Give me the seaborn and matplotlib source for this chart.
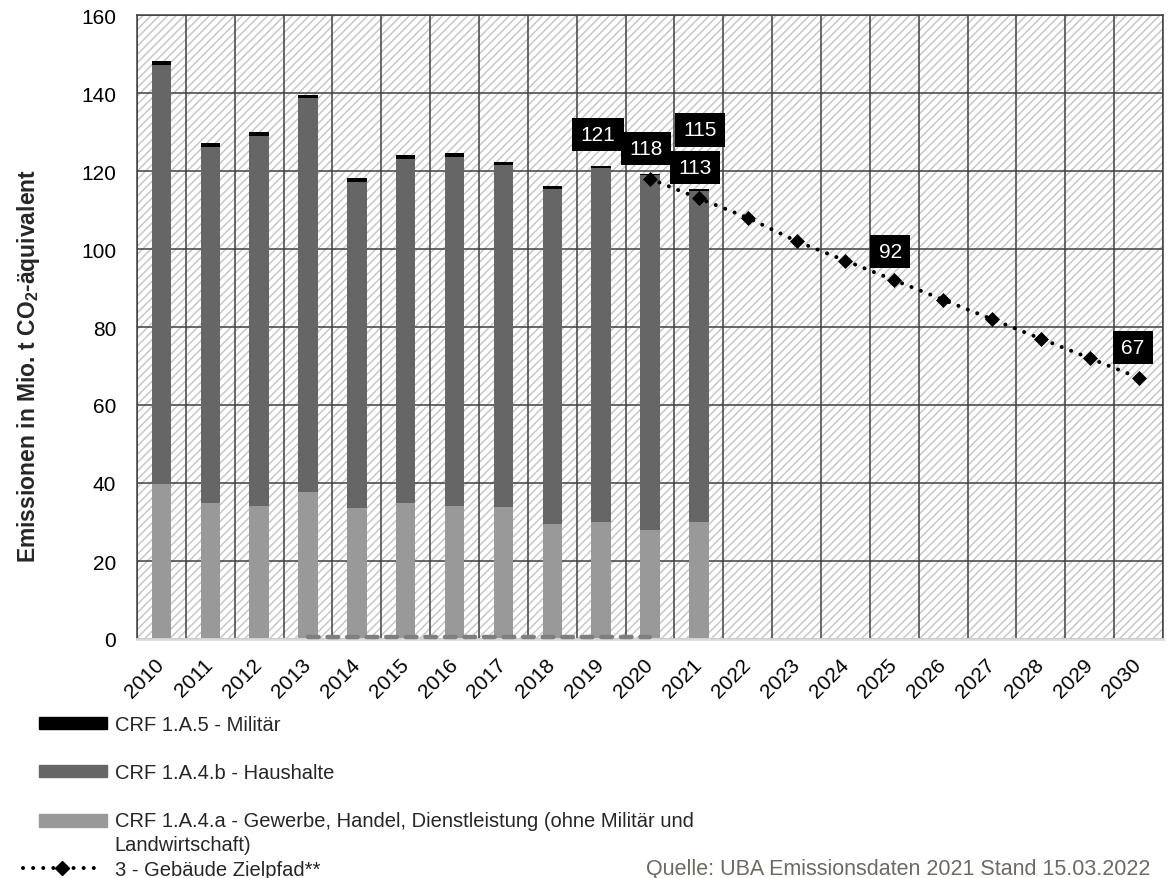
import numpy as np
import pandas as pd
import matplotlib
matplotlib.use("Agg")
import matplotlib.pyplot as plt
import matplotlib.patches as mpatches
from matplotlib.legend_handler import HandlerPatch
from matplotlib.lines import Line2D
import seaborn as sns

# ---- data (Mio. t CO2-Äquivalent) ----
years = [str(y) for y in range(2010, 2031)]
hist_years = [str(y) for y in range(2010, 2022)]
gewerbe = [39.7, 35.0, 34.1, 37.6, 33.6, 35.0, 34.1, 33.8, 29.6, 30.0, 27.9, 30.0]
haushalte = [107.4, 91.2, 95.0, 101.1, 83.7, 88.0, 89.5, 87.7, 85.8, 90.7, 91.0, 85.0]
militaer = [1.2, 1.0, 1.0, 0.9, 0.9, 1.0, 0.9, 0.8, 0.7, 0.7, 0.4, 0.4]

sonstige_years = [str(y) for y in range(2013, 2021)]
sonstige = [0.6, 0.6, 0.6, 0.6, 0.6, 0.6, 0.6, 0.6]

ziel_years = [str(y) for y in range(2020, 2031)]
zielpfad = [118, 113, 108, 102, 97, 92, 87, 82, 77, 72, 67]

# ---- style ----
sns.set_theme(style="white")
plt.rcParams["font.family"] = ["Liberation Sans", "DejaVu Sans"]
plt.rcParams["mathtext.fontset"] = "custom"
plt.rcParams["mathtext.rm"] = "Liberation Sans"
plt.rcParams["mathtext.bf"] = "Liberation Sans:bold"
plt.rcParams["hatch.linewidth"] = 1.1

W, H = 1168, 879
fig = plt.figure(figsize=(W / 100, H / 100), dpi=100)
ax = fig.add_axes([137 / W, 1 - 640 / H, (1163 - 137) / W, (640 - 16) / H])

# hatched plot background
ax.add_patch(mpatches.Rectangle((0, 0), 1, 1, transform=ax.transAxes,
                                facecolor="white", edgecolor="#c8c8c8",
                                hatch="////", linewidth=0, zorder=0.1))

df = pd.DataFrame({"Jahr": hist_years, "gew": gewerbe,
                   "haus": haushalte, "mil": militaer})
df["haus_top"] = df["gew"] + df["haus"]
df["total"] = df["haus_top"] + df["mil"]

# stacked bars: draw cumulative layers from top down
for col, color in [("total", "#000000"), ("haus_top", "#666666"), ("gew", "#999999")]:
    sns.barplot(data=df, x="Jahr", y=col, order=years, color=color,
                width=0.4, saturation=1, linewidth=0, errorbar=None,
                ax=ax, zorder=2)

pos = {y: i for i, y in enumerate(years)}

# small residual series near the axis
sns.lineplot(x=[pos[y] for y in sonstige_years], y=sonstige, ax=ax,
             color="#7f7f7f", linewidth=3.2, linestyle=(0, (2.4, 2.0)),
             dash_capstyle="round", zorder=5, clip_on=False, legend=False)

# target path
zx = [pos[y] for y in ziel_years]
sns.lineplot(x=zx, y=zielpfad, ax=ax, color="black", linewidth=2.9,
             linestyle=(0, (0.01, 2.5)), dash_capstyle="round",
             marker="D", markersize=7, markeredgecolor="black",
             markeredgewidth=0.5, zorder=4, legend=False)

# value tags
def tag(value, x, y, dx, dy):
    ax.annotate(f"{value:.0f}", xy=(x, y), xytext=(dx, dy),
                textcoords="offset pixels", ha="center", va="center",
                color="white", fontsize=15, zorder=6,
                bbox=dict(boxstyle="square,pad=0.4", fc="black", ec="none",
                          mutation_aspect=0.85))

totals = dict(zip(df["Jahr"], df["total"]))
ziel = dict(zip(ziel_years, zielpfad))
tag(totals["2019"], pos["2019"], totals["2019"], -3, 31)
tag(totals["2021"], pos["2021"], totals["2021"], 1, 59)
tag(ziel["2020"], pos["2020"], ziel["2020"], -4, 30)
tag(ziel["2021"], pos["2021"], ziel["2021"], -4, 31)
tag(ziel["2025"], pos["2025"], ziel["2025"], -4, 29)
tag(ziel["2030"], pos["2030"], ziel["2030"], -6, 30)

# axes
ax.set_xlim(-0.5, 20.5)
ax.set_ylim(0, 160)
ax.set_yticks(range(0, 161, 20))
ax.set_xticks(range(len(years)))
ax.set_xticklabels(years, rotation=45, ha="right", va="center",
                   rotation_mode="anchor")
ax.set_xticks(np.arange(-0.5, len(years), 1), minor=True)
ax.set_axisbelow(True)
ax.grid(axis="y", which="major", color="#404040", linewidth=1.1)
ax.grid(axis="x", which="minor", color="#404040", linewidth=1.1)
ax.grid(axis="x", which="major", visible=False)
ax.tick_params(axis="x", which="both", length=0, pad=16, labelsize=15, colors="black")
ax.tick_params(axis="y", length=3, pad=12, labelsize=15, color="#404040", labelcolor="black")
for s in ["left", "top", "right"]:
    ax.spines[s].set_color("#404040")
    ax.spines[s].set_linewidth(1.1)
ax.spines["bottom"].set_color("#d9d9d9")
ax.spines["bottom"].set_linewidth(2)

ax.set_xlabel("")
ax.set_ylabel(r"Emissionen in Mio. t CO$_\mathbf{2}$-äquivalent",
              fontsize=16.5, fontweight="bold")
ax.yaxis.set_label_coords(-0.0926, 0.439)

# legends
def first_line_patch(legend, orig_handle, xdescent, ydescent, width, height, fontsize):
    # keep the swatch level with the first line of a two-line label
    return mpatches.Rectangle((-xdescent, -ydescent + 0.62 * fontsize), width, height)

bar_handles = [mpatches.Patch(color="#000000"), mpatches.Patch(color="#666666"),
               mpatches.Patch(color="#999999")]
bar_labels = ["CRF 1.A.5 - Militär", "CRF 1.A.4.b - Haushalte",
              "CRF 1.A.4.a - Gewerbe, Handel, Dienstleistung (ohne Militär und\nLandwirtschaft)"]
leg = fig.legend(bar_handles, bar_labels, loc="upper left",
                 bbox_to_anchor=(39 / W, 1 - 716 / H), frameon=False, fontsize=14.5,
                 handlelength=68 / 20, handleheight=0.55, handletextpad=7 / 20,
                 labelspacing=1.45, borderpad=0, borderaxespad=0,
                 handler_map={bar_handles[2]: HandlerPatch(patch_func=first_line_patch)})
leg.get_texts()[2].set_linespacing(1.3)

line_handle = Line2D([], [], color="black", linewidth=2.9,
                     linestyle=(0, (0.01, 2.5)), dash_capstyle="round",
                     marker="D", markersize=7)
fig.legend([line_handle], ["3 - Gebäude Zielpfad**"], loc="center left",
           bbox_to_anchor=(23 / W, 1 - 871 / H), frameon=False, fontsize=14.5,
           handlelength=77 / 20, handletextpad=14 / 20,
           borderpad=0, borderaxespad=0)

fig.text(1150 / W, 1 - 870 / H, "Quelle: UBA Emissionsdaten 2021 Stand 15.03.2022",
         ha="right", va="center", fontsize=15.5, color="#6f6a60")

fig.savefig("out.png", dpi=100)
